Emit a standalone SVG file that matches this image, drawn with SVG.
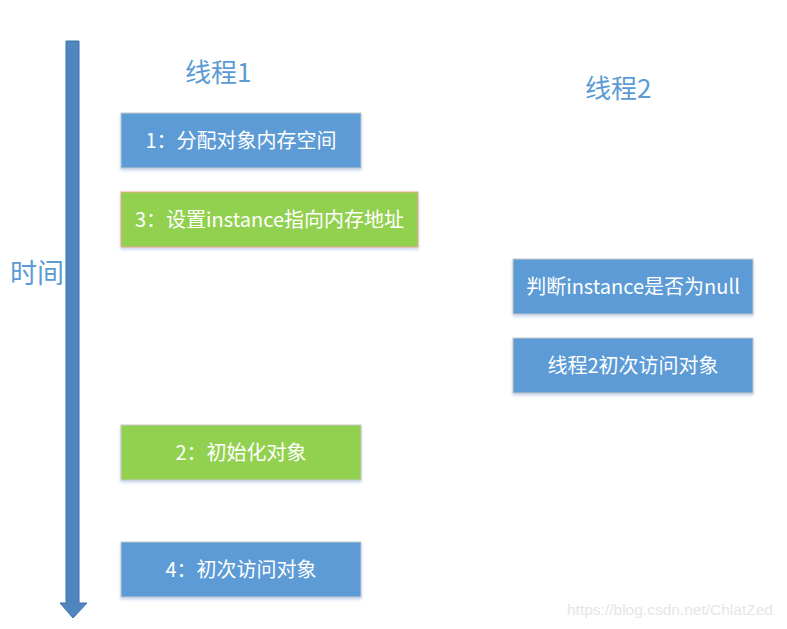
<svg xmlns="http://www.w3.org/2000/svg" width="787" height="629" viewBox="0 0 787 629">
<style>
text{font-family:"Microsoft YaHei","Noto Sans CJK SC","Noto Sans",sans-serif}
.box{stroke:#c9c9c9;stroke-width:1}
.blue{fill:#5b9bd5}
.green{fill:#92d050}
.lbl{fill:#ffffff;font-size:20px;text-anchor:middle;dominant-baseline:central}
.title{fill:#5b9bd5;font-size:26px}
</style>
<defs>
<filter id="sh" x="-5%" y="-10%" width="110%" height="130%"><feDropShadow dx="0" dy="2" stdDeviation="1.5" flood-color="#9db8e0" flood-opacity="0.6"/></filter>
</defs>
<rect width="787" height="629" fill="#ffffff"/>
<g id="connectors">
<path d="M66,41 H79 V603 H87 L73,618 L60,603 H66 Z" fill="#4f86c0" stroke="#3f72a8" stroke-width="1"/>
</g>
<g id="title1"><text class="title" x="185" y="82">线程1</text></g>
<g id="title2"><text class="title" x="585" y="98">线程2</text></g>
<g id="time"><text class="title" x="10" y="283" style="font-size:27px">时间</text></g>
<g id="n1"><rect class="box blue" x="121" y="113" width="240" height="55" filter="url(#sh)"/><text class="lbl" x="241" y="139">1：分配对象内存空间</text></g>
<g id="n3"><rect class="box green" x="121" y="192" width="297" height="55" style="stroke:#f0a88a" filter="url(#sh)"/><text class="lbl" x="269.5" y="218">3：设置instance指向内存地址</text></g>
<g id="n5"><rect class="box blue" x="513" y="259" width="240" height="55" filter="url(#sh)"/><text class="lbl" x="633" y="285">判断instance是否为null</text></g>
<g id="n6"><rect class="box blue" x="513" y="338" width="240" height="55" filter="url(#sh)"/><text class="lbl" x="633" y="364">线程2初次访问对象</text></g>
<g id="n2"><rect class="box green" x="121" y="425" width="240" height="55" filter="url(#sh)"/><text class="lbl" x="241" y="451">2：初始化对象</text></g>
<g id="n4"><rect class="box blue" x="121" y="542" width="240" height="55" filter="url(#sh)"/><text class="lbl" x="241" y="568">4：初次访问对象</text></g>
<g id="watermark"><text x="567" y="615" font-size="15.5" fill="#e6e6e6" style="font-family:'Liberation Sans',sans-serif">https://blog.csdn.net/ChlatZed</text></g>
</svg>
